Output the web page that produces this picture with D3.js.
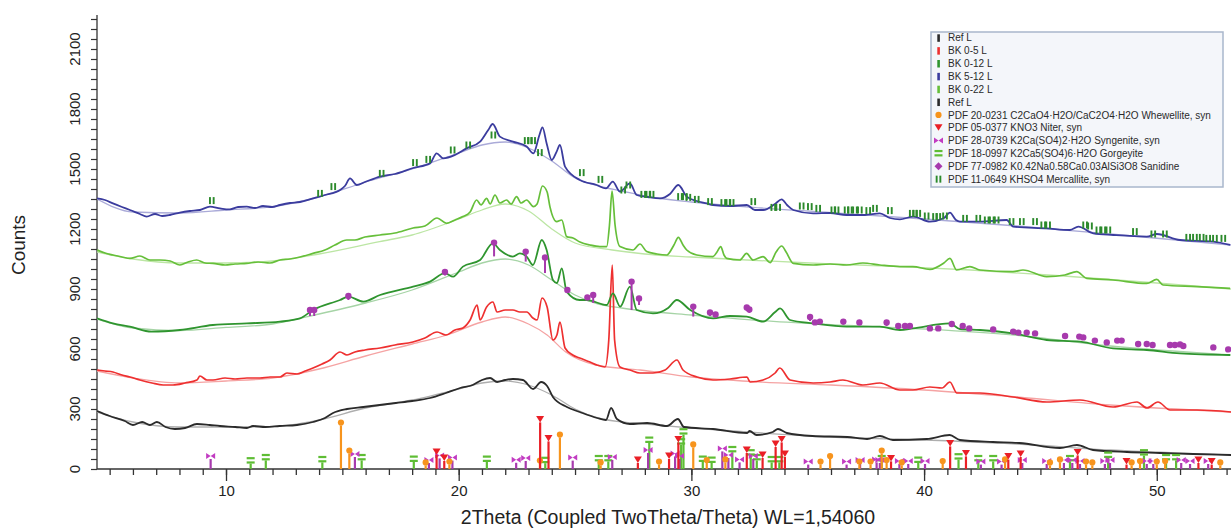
<!DOCTYPE html>
<html><head><meta charset="utf-8">
<script src="https://cdn.jsdelivr.net/npm/d3@7"></script>
<style>body{margin:0;background:#fff}svg{display:block;font-family:"Liberation Sans",Arial,sans-serif}</style>
</head><body><svg id="c" width="1231" height="528"></svg>
<script>
// ---------- DATA: [2Theta, Counts] ----------
const refL = [[4.46,290],[5.0,265],[5.65,240],[6.0,220],[6.4,235],[6.73,220],[7.03,235],[7.4,210],[7.8,200],[8.24,205],[8.75,225],[9.3,220],[9.74,215],[10.4,210],[10.9,205],[11.16,215],[11.7,210],[12.3,215],[13.05,220],[13.74,235],[14.25,255],[14.6,280],[15.2,300],[15.9,310],[16.6,320],[17.3,330],[18.0,340],[18.77,355],[19.45,380],[20.06,405],[20.6,420],[21.0,445],[21.35,455],[21.65,435],[22.0,445],[22.33,450],[22.76,445],[23.2,400],[23.54,435],[23.8,415],[24.05,360],[24.65,310],[25.2,285],[25.95,255],[26.33,245],[26.55,305],[26.8,250],[27.36,225],[28.1,230],[28.95,215],[29.42,250],[29.68,210],[30.93,200],[32.4,180],[32.5,190],[32.8,170],[33.5,185],[33.72,200],[34.1,180],[35.2,165],[36.7,160],[37.55,150],[38.1,165],[38.66,145],[40.12,150],[41.1,170],[41.54,145],[42.96,135],[44.1,130],[45.84,105],[46.57,120],[47.26,95],[48.72,85],[50.14,80],[51.56,75],[53.2,70]];
const refLBg = [[4.46,285],[6,235],[8,210],[10,210],[12,212],[14,245],[16,305],[18,345],[20,400],[21,430],[22,440],[23,420],[24,370],[25,300],[26,255],[27,235],[28,225],[30,205],[33,180],[36,160],[40,145],[44,125],[48,95],[53.2,70]];

const bk05 = [[4.46,495],[4.8,490],[5.14,485],[5.53,470],[5.87,460],[6.3,445],[6.82,430],[7.3,420],[7.72,420],[8.24,430],[8.75,445],[8.88,465],[9.18,445],[9.44,445],[9.96,455],[10.39,450],[10.9,455],[11.46,455],[11.9,460],[12.32,460],[12.62,480],[13.05,475],[13.4,490],[13.74,505],[14.13,525],[14.47,545],[14.9,585],[15.2,570],[15.54,585],[15.97,595],[16.62,605],[17.26,620],[18.03,635],[18.55,655],[19.07,685],[19.45,670],[19.84,695],[20.18,705],[20.49,745],[20.79,820],[20.92,745],[21.2,810],[21.47,835],[21.65,785],[22.0,795],[22.33,795],[22.63,785],[22.93,785],[23.19,755],[23.37,745],[23.58,855],[23.8,810],[24.05,645],[24.22,670],[24.35,735],[24.57,605],[24.9,570],[25.2,555],[25.64,535],[25.94,520],[26.29,510],[26.45,645],[26.6,1020],[26.7,645],[26.93,510],[27.36,495],[27.79,480],[28.35,480],[28.87,495],[29.38,545],[29.64,495],[30.24,460],[30.93,445],[31.66,450],[32.39,460],[32.52,435],[33.08,445],[33.6,480],[33.8,505],[34.24,445],[35.23,430],[35.96,435],[36.51,445],[37.37,420],[38.1,430],[38.96,395],[39.52,395],[40.25,410],[40.77,405],[41.11,435],[41.41,380],[42.4,380],[43.82,360],[45.28,335],[46.7,345],[48.12,310],[49.15,335],[49.58,305],[50.05,335],[50.57,295],[51.73,295],[53.19,285]];
const bk05Bg = [[4.46,490],[6,455],[8,430],[10,440],[12,455],[14,500],[16,565],[18,625],[19.5,670],[21,735],[22,760],[23,725],[23.8,670],[24.6,585],[25.9,520],[27.8,495],[30,460],[33,435],[36,420],[40,395],[44,360],[48,320],[53.2,285]];

const bk012 = [[4.46,753],[5.14,728],[5.87,712],[6.8,687],[8.02,695],[9.44,720],[10.9,728],[12.32,737],[13.18,753],[13.74,795],[14.9,845],[15.26,862],[15.9,837],[16.62,870],[18.04,912],[18.77,937],[19.41,979],[19.76,962],[20.18,1012],[20.92,1045],[21.47,1128],[21.77,1095],[22.33,1062],[22.63,1078],[22.92,1062],[23.19,1020],[23.57,1145],[23.78,1095],[24.05,945],[24.22,930],[24.43,1003],[24.64,887],[25.2,845],[25.5,845],[26.36,820],[26.63,878],[26.94,812],[27.36,912],[27.65,795],[28.35,778],[29.0,805],[29.37,845],[29.95,795],[30.93,753],[31.66,765],[32.38,762],[33.08,737],[33.6,785],[33.81,803],[34.24,745],[35.23,728],[36.67,712],[38.1,712],[38.96,695],[39.52,703],[41.11,728],[41.54,700],[42.4,695],[43.82,678],[45.27,645],[46.7,637],[48.12,603],[49.57,595],[51.0,578],[53.15,570]];
const bk012Bg = [[4.46,750],[6,705],[8,692],[10,708],[12,725],[14,775],[16,830],[18,895],[20,985],[21,1030],[22,1050],[23,1020],[24,945],[25,870],[26,825],[27,805],[28,790],[30,770],[33,742],[36,722],[40,700],[44,668],[48,615],[53.2,570]];

const bk512 = [[4.46,1353],[4.8,1345],[5.14,1328],[5.53,1310],[5.87,1295],[6.3,1275],[6.59,1262],[6.95,1275],[7.25,1265],[7.59,1270],[8.02,1282],[8.45,1290],[8.88,1295],[9.31,1312],[9.74,1303],[10.17,1298],[10.52,1310],[10.89,1312],[11.25,1305],[11.59,1315],[11.98,1310],[12.32,1320],[12.75,1330],[13.18,1335],[13.74,1353],[14.25,1370],[14.9,1395],[15.11,1415],[15.33,1453],[15.62,1420],[15.97,1435],[16.62,1462],[17.26,1475],[18.04,1505],[18.77,1528],[19.05,1578],[19.34,1553],[19.84,1570],[20.34,1603],[20.92,1637],[21.27,1695],[21.46,1725],[21.77,1662],[22.33,1637],[22.92,1612],[23.21,1578],[23.47,1670],[23.6,1708],[23.78,1628],[24.0,1545],[24.21,1587],[24.35,1620],[24.57,1512],[25.21,1445],[25.93,1420],[26.33,1403],[26.62,1437],[26.93,1387],[27.36,1428],[27.65,1370],[28.13,1360],[28.65,1353],[29.08,1375],[29.44,1420],[29.8,1362],[30.23,1340],[30.66,1328],[30.93,1320],[31.66,1315],[32.38,1320],[32.73,1295],[33.09,1295],[33.59,1325],[33.88,1348],[34.11,1320],[34.38,1295],[35.23,1278],[35.96,1280],[36.67,1270],[37.46,1270],[38.1,1278],[38.53,1255],[38.96,1248],[39.54,1262],[40.25,1237],[40.86,1255],[41.11,1282],[41.37,1245],[41.54,1237],[42.4,1237],[43.55,1245],[43.83,1212],[45.27,1203],[46.27,1195],[46.63,1212],[47.27,1178],[48.13,1170],[49.57,1162],[50.0,1175],[51.0,1145],[52.43,1137],[53.15,1120]];
const bk512Bg = [[4.46,1350],[6,1285],[8,1280],[10,1295],[12,1312],[14,1360],[16,1435],[18,1500],[20,1580],[21,1620],[22,1635],[23,1605],[24,1540],[25,1455],[26,1415],[27,1390],[28,1365],[30,1335],[33,1305],[36,1282],[40,1250],[44,1215],[48,1175],[53.2,1120]];

const bk022 = [[4.46,1095],[4.8,1080],[5.14,1070],[5.53,1060],[5.87,1053],[6.3,1065],[6.73,1045],[7.16,1045],[7.6,1040],[8.02,1020],[8.37,1035],[8.74,1045],[9.1,1030],[9.44,1028],[9.96,1020],[10.39,1025],[10.89,1028],[11.38,1035],[11.89,1030],[12.32,1045],[12.75,1050],[13.18,1060],[13.74,1078],[14.25,1095],[14.68,1120],[15.19,1145],[15.54,1145],[15.97,1160],[16.62,1170],[17.26,1180],[18.04,1205],[18.55,1215],[19.07,1255],[19.48,1228],[19.84,1245],[20.18,1262],[20.49,1285],[20.77,1345],[20.96,1320],[21.2,1353],[21.35,1325],[21.56,1370],[21.77,1330],[22.06,1345],[22.25,1325],[22.49,1362],[22.68,1330],[22.92,1345],[23.21,1312],[23.37,1325],[23.6,1415],[23.8,1385],[23.92,1312],[24.21,1237],[24.43,1245],[24.64,1162],[24.91,1155],[25.21,1135],[25.64,1120],[26.07,1112],[26.36,1112],[26.48,1220],[26.59,1390],[26.72,1220],[26.93,1112],[27.49,1095],[27.79,1125],[28.08,1087],[28.52,1075],[28.94,1070],[29.25,1120],[29.44,1158],[29.64,1120],[29.8,1095],[30.23,1070],[30.93,1062],[31.1,1085],[31.26,1112],[31.4,1070],[31.52,1053],[32.08,1045],[32.37,1078],[32.65,1045],[33.08,1062],[33.38,1032],[33.64,1085],[33.88,1115],[34.07,1085],[34.38,1028],[35.23,1020],[35.96,1025],[36.67,1020],[37.37,1030],[38.1,1020],[38.96,1012],[39.52,1012],[40.25,998],[40.85,1030],[41.11,1053],[41.4,995],[41.97,1012],[42.4,995],[43.82,987],[44.25,995],[45.27,962],[46.05,970],[46.56,987],[46.99,953],[48.12,945],[49.57,928],[50.0,948],[50.27,920],[51.72,912],[53.15,903]];
const bk022Bg = [[4.46,1085],[6,1050],[8,1030],[10,1030],[12,1040],[14,1075],[16.6,1137],[18,1170],[20,1250],[21,1295],[22,1325],[23,1290],[24,1200],[25,1130],[26.6,1095],[28,1075],[30,1060],[32.4,1045],[36,1025],[39,1012],[42,995],[46,965],[50,930],[53.2,900]];

// reference stick patterns at the bottom: [2Theta, height]
const whewellite = [[14.94,232],[15.3,92],[18.58,33],[19.6,37],[23.49,42],[24.35,172],[26.1,33],[28.61,37],[30.08,123],[30.66,45],[31.46,48],[35.55,37],[35.96,65],[37.22,37],[37.7,37],[38.18,92],[38.39,45],[39.04,33],[40.8,40],[43.48,48],[45.41,33],[45.84,48],[46.96,37],[47.23,33],[48.92,33],[49.28,40],[50.0,37],[50.36,40],[52.73,33]];
const niter = [[19.05,85],[19.38,55],[23.5,248],[23.86,153],[27.7,45],[29.04,65],[29.44,148],[32.38,95],[33.06,70],[33.62,125],[33.88,148],[34.02,75],[38.58,53],[41.12,128],[41.8,78],[43.62,62],[44.15,75],[46.6,83],[48.7,37],[51.79,45],[52.36,37]];
const syngenite = [[9.34,65],[15.54,75],[18.72,45],[19.18,68],[19.73,57],[22.47,46],[22.88,55],[24.9,57],[26.6,60],[28.14,95],[29.3,78],[29.49,65],[31.33,103],[31.59,70],[32.07,48],[32.66,65],[35.02,37],[36.67,37],[37.25,45],[37.96,48],[38.1,45],[38.94,40],[39.32,40],[40.04,40],[42.44,37],[43.33,37],[44.22,45],[45.27,40],[46.01,45],[46.37,45],[46.7,40],[47.77,40],[47.99,45],[49.57,40],[49.85,40],[51.05,45],[51.43,40],[52.21,40]];
const gorgeyite = [[11.06,42],[11.71,58],[14.14,48],[15.83,58],[18.07,50],[21.21,50],[23.72,44],[26.02,53],[26.43,53],[28.19,145],[29.56,137],[29.66,187],[30.49,50],[30.87,45],[31.76,98],[32.55,82],[32.81,58],[33.45,48],[33.78,48],[38.18,53],[39.75,45],[41.48,62],[42.33,53],[42.97,53],[46.27,53],[47.91,70],[49.45,82],[50.4,58],[50.83,58]];

// phase markers drawn on the patterns
const sanidineMarks = [[13.61,795,765],[13.79,795,765],[15.26,865,845],[19.41,985,968],[21.52,1132,1063],[22.88,1087,1037],[23.71,1058,980],[24.67,895,880],[25.53,858,845],[25.78,870,830],[27.43,937,795],[27.75,853,820],[30.08,812,762],[30.8,783,765],[31.04,773,758],[32.38,808,790],[32.49,798,780],[35.1,760,740],[35.31,733,722],[35.52,737,725],[36.53,737,722],[37.22,733,718],[38.39,733,715],[38.89,715,703],[39.18,715,703],[39.39,715,703],[40.25,703,692],[40.61,703,692],[41.19,725,712],[41.66,715,700],[41.94,703,692],[42.97,698,688],[43.83,687,676],[44.05,682,672],[44.41,682,672],[44.77,678,668],[46.06,665,652],[46.67,662,650],[46.84,658,646],[47.34,642,630],[47.85,633,622],[48.3,642,630],[48.49,642,630],[49.2,625,612],[49.57,625,612],[49.82,620,608],[50.57,620,608],[50.78,620,608],[51.0,623,610],[51.14,615,603],[52.43,608,596],[53.07,598,586]];
const mercalliteMarks = [[9.39,1342],[14.04,1378],[14.61,1412],[16.69,1478],[18.12,1532],[18.69,1548],[19.74,1595],[20.41,1620],[21.49,1670],[22.92,1642],[23.06,1642],[23.2,1642],[23.49,1582],[25.29,1482],[26.09,1448],[27.07,1395],[27.29,1420],[27.93,1373],[28.15,1373],[28.29,1373],[29.51,1362],[29.72,1362],[29.87,1358],[30.23,1348],[30.8,1337],[31.37,1332],[31.59,1332],[31.73,1332],[32.66,1337],[33.52,1308],[33.73,1308],[34.74,1315],[35.09,1312],[35.45,1303],[36.1,1295],[36.24,1295],[36.67,1295],[36.81,1295],[37.03,1295],[37.24,1295],[37.6,1292],[37.89,1303],[38.53,1292],[39.47,1278],[39.61,1278],[39.75,1278],[40.11,1265],[40.47,1262],[40.61,1262],[40.9,1265],[41.76,1253],[42.33,1253],[42.69,1245],[42.91,1245],[43.12,1245],[43.76,1237],[44.2,1237],[44.77,1237],[45.12,1220],[45.33,1220],[46.92,1220],[47.13,1215],[47.49,1195],[47.7,1195],[47.92,1195],[49.06,1187],[49.85,1175],[50.35,1175],[51.35,1158],[51.64,1158],[51.93,1158],[52.21,1153],[52.5,1153],[52.86,1153]];

const xMajorTicks = [10,20,30,40,50];
const yMajorTicks = [0,300,600,900,1200,1500,1800,2100];
const legendLabels = ["Ref L","BK 0-5 L","BK 0-12 L","BK 5-12 L","BK 0-22 L","Ref L",
 "PDF 20-0231 C2CaO4·H2O/CaC2O4·H2O Whewellite, syn",
 "PDF 05-0377 KNO3 Niter, syn",
 "PDF 28-0739 K2Ca(SO4)2·H2O Syngenite, syn",
 "PDF 18-0997 K2Ca5(SO4)6·H2O Gorgeyite",
 "PDF 77-0982 K0.42Na0.58Ca0.03AlSi3O8 Sanidine",
 "PDF 11-0649 KHSO4 Mercallite, syn"];

// ---------- CHART ----------
const svg = d3.select("#c");
const x = d3.scaleLinear().domain([4.456,53.19]).range([97,1231]);
const y = d3.scaleLinear().domain([0,2270]).range([469,15]);

const C = {black:"#2b2b2b", red:"#ee3030", dgreen:"#2f952f", blue:"#3b3c9e", lgreen:"#66bf3a",
  blackBg:"#aeaeae", redBg:"#f5a3a3", dgreenBg:"#a6d4a6", blueBg:"#aaaad8", lgreenBg:"#bce6a4",
  orange:"#f7941d", nred:"#ea1f26", magenta:"#c23cc2", ggreen:"#5ebd34", purple:"#a73aad", mgreen:"#2c8a2c"};

svg.append("clipPath").attr("id","clip").append("rect").attr("x",97).attr("y",10).attr("width",1140).attr("height",460);

// axes
const gx = svg.append("g").attr("transform","translate(0,469)");
gx.call(d3.axisBottom(x).tickValues(d3.range(5,54)).tickSize(6).tickFormat(""))
  .call(g=>g.select(".domain").remove());
gx.append("g").call(d3.axisBottom(x).tickValues(xMajorTicks).tickSize(12).tickPadding(4).tickFormat(d3.format("d")))
  .call(g=>g.select(".domain").remove())
  .call(g=>g.selectAll("text").attr("font-size",15).attr("fill","#222").attr("font-family","Liberation Sans, Arial"));
gx.append("line").attr("x1",97).attr("x2",1231).attr("stroke","#333").attr("stroke-width",1.3);
gx.selectAll(".tick line").attr("stroke","#333").attr("stroke-width",1.3);

const gy = svg.append("g").attr("transform","translate(97,0)");
gy.call(d3.axisLeft(y).tickValues(d3.range(0,2251,50)).tickSize(6).tickFormat(""))
  .call(g=>g.select(".domain").remove());
gy.append("line").attr("y1",15).attr("y2",469).attr("stroke","#333").attr("stroke-width",1.3);
gy.selectAll(".tick line").attr("stroke","#333").attr("stroke-width",1.2);
svg.append("g").selectAll("text").data(yMajorTicks).join("text")
  .attr("transform",d=>`translate(80,${y(d)}) rotate(-90)`)
  .attr("text-anchor","middle").attr("font-size",15).attr("fill","#222").text(d=>d);

svg.append("text").attr("transform","translate(25,245) rotate(-90)").attr("text-anchor","middle")
  .attr("font-size",19).attr("fill","#222").text("Counts");
svg.append("text").attr("x",668).attr("y",524).attr("text-anchor","middle")
  .attr("font-size",19.5).attr("fill","#222").text("2Theta (Coupled TwoTheta/Theta) WL=1,54060");

// patterns
const line = d3.line().x(d=>x(d[0])).y(d=>y(d[1])).curve(d3.curveMonotoneX);
const plot = svg.append("g").attr("clip-path","url(#clip)");
const series = [
  [refLBg,C.blackBg,1.3],[bk05Bg,C.redBg,1.3],[bk012Bg,C.dgreenBg,1.3],[bk512Bg,C.blueBg,1.3],[bk022Bg,C.lgreenBg,1.3],
  [refL,C.black,1.8],[bk05,C.red,1.7],[bk012,C.dgreen,1.8],[bk512,C.blue,1.8],[bk022,C.lgreen,1.7]];
series.forEach(([d,col,w])=>plot.append("path").datum(d).attr("d",line).attr("fill","none").attr("stroke",col).attr("stroke-width",w).attr("stroke-linejoin","round"));

// marker glyphs
function glyph(g,type,col){
  if(type==="circle") g.append("circle").attr("r",3.1).attr("fill",col);
  else if(type==="tri") g.append("path").attr("d","M-4,-3.5L4,-3.5L0,3Z").attr("fill",col);
  else if(type==="bow") g.append("path").attr("d","M-4.5,-3L-4.5,3L0,0ZM4.5,-3L4.5,3L0,0Z").attr("fill",col);
  else if(type==="eq"){ g.append("rect").attr("x",-4).attr("y",-3.5).attr("width",8).attr("height",2.2).attr("fill",col);
    g.append("rect").attr("x",-4).attr("y",0.8).attr("width",8).attr("height",2.2).attr("fill",col);}
  else if(type==="dia") g.append("path").attr("d","M0,-4L4,0L0,4L-4,0Z").attr("fill",col);
  else if(type==="bars"){ g.append("rect").attr("x",-2.8).attr("y",-3.5).attr("width",1.9).attr("height",7).attr("fill",col);
    g.append("rect").attr("x",0.9).attr("y",-3.5).attr("width",1.9).attr("height",7).attr("fill",col);}
}

// bottom sticks
const sticks = [[gorgeyite,"eq",C.ggreen],[syngenite,"bow",C.magenta],[whewellite,"circle",C.orange],[niter,"tri",C.nred]];
sticks.forEach(([data,type,col])=>{
  const g = plot.append("g");
  g.selectAll("line").data(data).join("line")
    .attr("x1",d=>x(d[0])).attr("x2",d=>x(d[0])).attr("y1",y(0)).attr("y2",d=>y(d[1])+3)
    .attr("stroke",type==="bow"?C.purple:col).attr("stroke-width",2.2);
  g.selectAll("g").data(data).join("g").attr("transform",d=>`translate(${x(d[0])},${y(d[1])})`)
    .each(function(){glyph(d3.select(this),type,col);});
});

// sanidine marks on BK 0-12 L
const gs = plot.append("g");
gs.selectAll("line").data(sanidineMarks).join("line")
  .attr("x1",d=>x(d[0])).attr("x2",d=>x(d[0])).attr("y1",d=>y(d[2])).attr("y2",d=>y(d[1]))
  .attr("stroke",C.purple).attr("stroke-width",2);
gs.selectAll("circle").data(sanidineMarks).join("circle")
  .attr("cx",d=>x(d[0])).attr("cy",d=>y(d[1])).attr("r",3.2).attr("fill",C.purple);

// mercallite marks on BK 5-12 L
plot.append("g").selectAll("g").data(mercalliteMarks).join("g")
  .attr("transform",d=>`translate(${x(d[0])},${y(d[1])})`)
  .each(function(){glyph(d3.select(this),"bars",C.mgreen);});

// legend
const lg = svg.append("g");
lg.append("rect").attr("x",931).attr("y",32).attr("width",292).attr("height",155)
  .attr("fill","#f4f6fa").attr("stroke","#a9b7cc").attr("stroke-width",1.5);
const legendIcons = [["barv",C.black],["barv",C.red],["barv",C.dgreen],["barv",C.blue],["barv",C.lgreen],["barv",C.black],
  ["circle",C.orange],["tri",C.nred],["bow",C.magenta],["eq",C.ggreen],["dia",C.purple],["bars",C.mgreen]];
legendLabels.forEach((t,i)=>{
  const yy = 37.8 + i*12.85;
  const g = lg.append("g").attr("transform",`translate(938.5,${yy})`);
  const [type,col] = legendIcons[i];
  if(type==="barv") g.append("rect").attr("x",-1.2).attr("y",-3.5).attr("width",2.6).attr("height",7.5).attr("fill",col);
  else glyph(g,type,col);
  lg.append("text").attr("x",948).attr("y",yy+3.6).attr("font-size",10).attr("fill","#2a2a2a").text(t);
});
</script></body></html>
